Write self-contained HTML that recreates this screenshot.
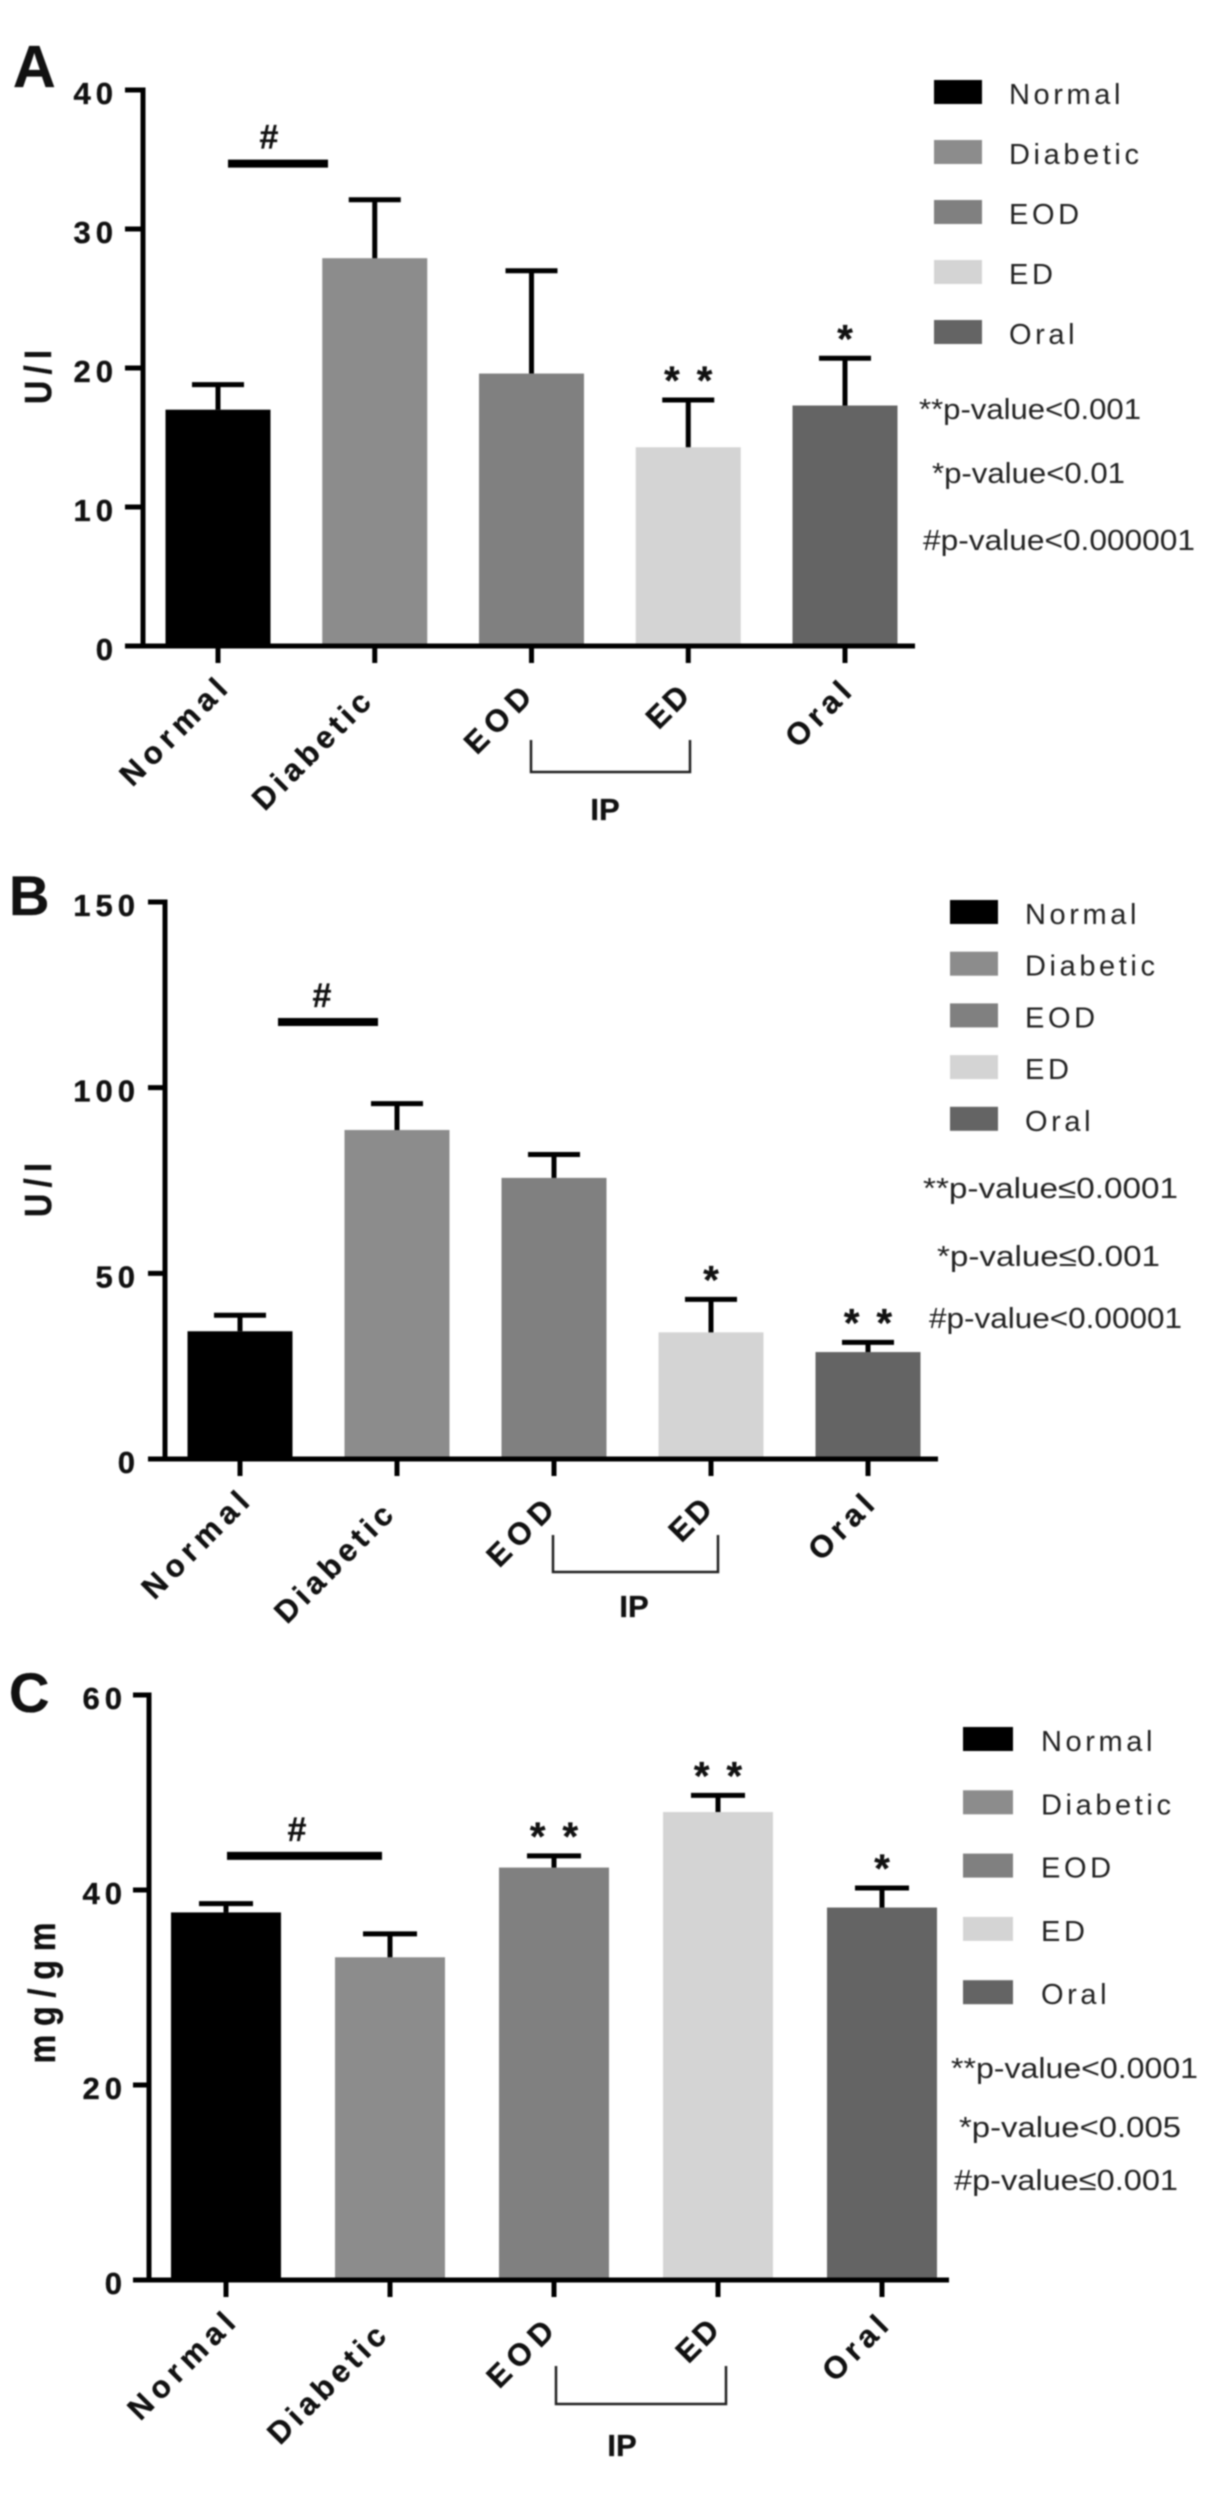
<!DOCTYPE html>
<html>
<head>
<meta charset="utf-8">
<title>Bar charts A, B and C</title>
<style>
html,body{margin:0;padding:0;background:#fff;width:1205px;height:2504px;overflow:hidden}
svg{display:block;filter:blur(0.7px)}
text{font-family:"Liberation Sans",sans-serif;fill:#111}
.b{font-weight:700;stroke:#111;stroke-width:.35}
.r{fill:#222}
</style>
</head>
<body>
<svg id="figure" xmlns="http://www.w3.org/2000/svg" width="1205" height="2504" viewBox="0 0 1205 2504"></svg>
<script>
// ---- data ----
const categories = ['Normal', 'Diabetic', 'EOD', 'ED', 'Oral'];

const barsA = [17.0, 27.9, 19.6, 14.3, 17.3];
const errA = [18.8, 32.1, 27.0, 17.7, 20.7];
const starsA = ['', '', '', '* *', '*'];
const ticksA = [0, 10, 20, 30, 40];
const hashA = [34.7];

const barsB = [34.4, 88.6, 75.7, 34.1, 28.8];
const errB = [38.7, 95.7, 82.0, 43.0, 31.4];
const starsB = ['', '', '', '*', '* *'];
const ticksB = [0, 50, 100, 150];
const hashB = [117.7];

const barsC = [37.7, 33.1, 42.3, 48.0, 38.2];
const errC = [38.6, 35.5, 43.5, 49.7, 40.2];
const starsC = ['', '', '* *', '* *', '*'];
const ticksC = [0, 20, 40, 60];
const hashC = [43.5];

const notesA = ['**p-value<0.001', '*p-value<0.01', '#p-value<0.000001'];
const notesB = ['**p-value\u22640.0001', '*p-value\u22640.001', '#p-value<0.00001'];
const notesC = ['**p-value<0.0001', '*p-value<0.005', '#p-value\u22640.001'];

// ---- styling / layout ----
const barColors = ['#000000', '#8c8c8c', '#808080', '#d4d4d4', '#646464'];
const labelNudgeX = [11, -2, 2, 3, 8];
const labelNudgeY = [45, 58, 53, 52, 48];
const labelSpacing = [6, 4.6, 6.5, 3, 5.3];

const NS = 'http://www.w3.org/2000/svg';
const svg = document.getElementById('figure');

function make(parent, tag, props, content) {
  const n = document.createElementNS(NS, tag);
  for (const k in props) n.setAttribute(k, props[k]);
  if (content !== undefined) n.textContent = content;
  parent.appendChild(n);
  return n;
}

function drawPanel(p) {
  const g = make(svg, 'g', {});
  
  

  const maxTick = p.ticks[p.ticks.length - 1];
  const y = v => p.y0 - (v / maxTick) * (p.y0 - p.yTop);
  const cx = i => p.x0 + p.step * i;

  const letter = make(g, 'text', {x: p.letterX, y: p.letterY, 'font-size': p.letterSize, class: 'b'}, p.letter);
  
  

  // bars
  p.bars.forEach((v, i) => {
    const bar = make(g, 'rect', {x: cx(i) - p.barW / 2, y: y(v), width: p.barW, height: p.y0 - y(v), fill: barColors[i]});
    
    
  });

  // error bars
  p.err.forEach((v, i) => {
    const stem = make(g, 'line', {x1: cx(i), x2: cx(i), y1: y(p.bars[i]), y2: y(v), stroke: '#000', 'stroke-width': 5});
    
    
    const cap = make(g, 'line', {x1: cx(i) - p.capW / 2, x2: cx(i) + p.capW / 2, y1: y(v), y2: y(v), stroke: '#000', 'stroke-width': 5});
    
    
  });

  // significance stars
  p.stars.forEach((s, i) => {
    if (!s) return;
    const star = make(g, 'text', {x: cx(i) + (s.length > 1 ? 1.5 : 0), y: y(p.err[i]) - 6, 'font-size': 40, class: 'b', 'text-anchor': 'middle', 'letter-spacing': s.length > 1 ? 3 : 0}, s);
    
    
  });

  // hash bracket
  const hashLine = make(g, 'line', {x1: p.hashX1, x2: p.hashX2, y1: y(p.hash[0]), y2: y(p.hash[0]), stroke: '#000', 'stroke-width': 8});
  
  
  const hashMark = make(g, 'text', {x: p.hashTextX, y: y(p.hash[0]) - 15, 'font-size': 34, class: 'b', 'text-anchor': 'middle'}, '#');
  
  

  // axes
  const yAxis = make(g, 'line', {x1: p.axisX, x2: p.axisX, y1: p.yTop - 2.5, y2: p.y0 + 2.5, stroke: '#000', 'stroke-width': 5});
  
  
  const xAxis = make(g, 'line', {x1: p.tickLeft, x2: p.axisRight, y1: p.y0, y2: p.y0, stroke: '#000', 'stroke-width': 5});
  
  

  p.ticks.forEach(t => {
    const tick = make(g, 'line', {x1: p.tickLeft, x2: p.axisX, y1: y(t), y2: y(t), stroke: '#000', 'stroke-width': 5});
    
    
    const lab = make(g, 'text', {x: p.tickLabelRight + 5, y: y(t) + 14, 'font-size': 31, class: 'b', 'text-anchor': 'end', 'letter-spacing': 5}, String(t));
    
    
  });

  categories.forEach((c, i) => {
    const tick = make(g, 'line', {x1: cx(i), x2: cx(i), y1: p.y0, y2: p.y0 + 17, stroke: '#000', 'stroke-width': 5});
    
    
    const tx = cx(i) + labelNudgeX[i];
    const ty = p.y0 + labelNudgeY[i];
    const lab = make(g, 'text', {x: tx + labelSpacing[i], y: ty, 'font-size': 31, class: 'b', 'text-anchor': 'end', 'letter-spacing': labelSpacing[i], transform: 'rotate(-45 ' + tx + ' ' + ty + ')'}, c);
    
    
  });

  // y title
  const title = make(g, 'text', {x: 0, y: 0, 'font-size': 38, class: 'b', 'text-anchor': 'middle', textLength: p.titleLen / 0.85, lengthAdjust: 'spacing', transform: 'translate(' + p.titleX + ' ' + p.titleY + ') rotate(-90) scale(0.85 1)'}, p.title);
  
  

  // IP bracket
  const br = make(g, 'path', {d: 'M' + p.brX1 + ' ' + p.brTop + 'V' + p.brBottom + 'H' + p.brX2 + 'V' + p.brTop, fill: 'none', stroke: '#222', 'stroke-width': 2.5});
  
  
  const ip = make(g, 'text', {x: p.ipX, y: p.ipY, 'font-size': 31, class: 'b', 'text-anchor': 'middle'}, 'IP');
  
  

  // legend
  categories.forEach((c, i) => {
    const top = p.legTop + p.legStep * i;
    const sw = make(g, 'rect', {x: p.legX, y: top, width: p.legW, height: 24, fill: barColors[i]});
    
    
    const lab = make(g, 'text', {x: p.legTextX, y: top + 24, 'font-size': 29, 'letter-spacing': 3.6, class: 'r'}, c);
    
    
  });

  // p-value notes
  p.notes.forEach((n, i) => {
    const t = make(g, 'text', {x: p.noteX[i], y: p.noteY[i], 'font-size': 29, class: 'r', textLength: p.noteW[i], lengthAdjust: 'spacingAndGlyphs'}, n);
    
    
  });
}

drawPanel({
  letter: 'A', letterX: 13, letterY: 87, letterSize: 59,
  bars: barsA, err: errA, stars: starsA, ticks: ticksA, hash: hashA, notes: notesA,
  y0: 646, yTop: 90, x0: 218, step: 156.75, barW: 105, capW: 52,
  axisX: 143, tickLeft: 125, axisRight: 915, tickLabelRight: 113,
  hashX1: 228, hashX2: 328, hashTextX: 269,
  title: 'U / I', titleLen: 54, titleX: 51, titleY: 377,
  brX1: 531, brX2: 690, brTop: 740, brBottom: 772, ipX: 605, ipY: 820,
  legX: 934, legTop: 80, legStep: 60, legW: 48, legTextX: 1009,
  noteX: [919, 932, 923], noteY: [419, 483, 550], noteW: [222, 193, 272]
});

drawPanel({
  letter: 'B', letterX: 9, letterY: 915, letterSize: 56,
  bars: barsB, err: errB, stars: starsB, ticks: ticksB, hash: hashB, notes: notesB,
  y0: 1459, yTop: 902, x0: 240, step: 157, barW: 105, capW: 52,
  axisX: 165, tickLeft: 148, axisRight: 938, tickLabelRight: 135,
  hashX1: 278, hashX2: 378, hashTextX: 322,
  title: 'U / I', titleLen: 54, titleX: 51, titleY: 1190,
  brX1: 553, brX2: 718, brTop: 1535, brBottom: 1572, ipX: 634, ipY: 1617,
  legX: 950, legTop: 900, legStep: 51.7, legW: 48, legTextX: 1025,
  noteX: [923, 937, 929], noteY: [1198, 1266, 1328], noteW: [255, 223, 253]
});

drawPanel({
  letter: 'C', letterX: 9, letterY: 1712, letterSize: 56,
  bars: barsC, err: errC, stars: starsC, ticks: ticksC, hash: hashC, notes: notesC,
  y0: 2280, yTop: 1695, x0: 226, step: 164, barW: 110, capW: 54,
  axisX: 149, tickLeft: 133, axisRight: 949, tickLabelRight: 122,
  hashX1: 227, hashX2: 382, hashTextX: 297,
  title: 'mg/gm', titleLen: 141, titleX: 55, titleY: 1993,
  brX1: 556, brX2: 726, brTop: 2366, brBottom: 2404, ipX: 622, ipY: 2456,
  legX: 963, legTop: 1727, legStep: 63.3, legW: 50, legTextX: 1041,
  noteX: [951, 959, 954], noteY: [2078, 2137, 2190], noteW: [247, 222, 224]
});
</script>
</body>
</html>
